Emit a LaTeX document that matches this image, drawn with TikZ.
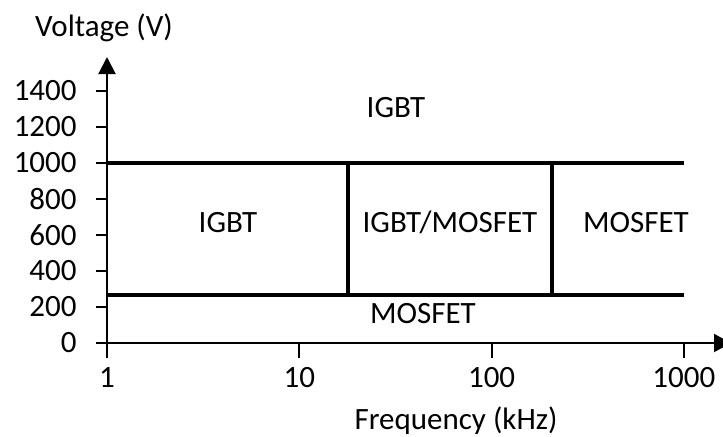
\documentclass[tikz,border=0pt]{standalone}
\usepackage{fontspec}
\setmainfont{Carlito}
\usetikzlibrary{arrows.meta, positioning, calc}

\begin{document}
\begin{tikzpicture}[x=0.5pt, y=-0.5pt, font=\fontsize{15.5}{18}\selectfont,
    axis/.style={line width=1pt},
    border/.style={line width=1.7pt},
    lbl/.style={inner sep=0pt}]
\useasboundingbox (0,0) rectangle (723,436);
% axes
\coordinate (o) at (107,343);
\coordinate (ybot) at (107,358);
\coordinate (ytop) at (107,57);
\coordinate (xleft) at (96,343);
\coordinate (xright) at (731,343);
\draw[axis, -{Triangle[length=8.5pt,width=8.5pt]}] (ybot) -- (ytop);
\draw[axis, -{Triangle[length=8.5pt,width=9pt]}] (xleft) -- (xright);
\node[lbl] (volt) at (104,28) {Voltage (V)};
\node[lbl] (freq) at (456,421) {Frequency (kHz)};
% voltage ticks
\foreach \v in {0,200,...,1400} {
  \coordinate (yt\v) at (107,{343-0.18*\v});
  \draw[axis] (yt\v) -- ++(-11,0);
  \node[lbl, anchor=east] (yl\v) at ($(yt\v)+(-30,0)$) {\v};
}
% frequency ticks
\foreach \f [count=\k from 0] in {1,10,100,1000} {
  \coordinate (xt\f) at ({107+192.3*\k},343);
  \draw[axis] (xt\f) -- ++(0,15);
  \node[lbl] (xl\f) at ($(xt\f)+(0,35)$) {\f};
}
% region borders
\coordinate (hiL) at (107,163);
\coordinate (hiR) at (684,163);
\coordinate (loL) at (107,295);
\coordinate (loR) at (684,295);
\coordinate (a1) at (348,163);
\coordinate (a2) at (348,295);
\coordinate (b1) at (552,163);
\coordinate (b2) at (552,295);
\draw[border] (hiL) -- (hiR);
\draw[border] (loL) -- (loR);
\draw[border] (a1) -- (a2);
\draw[border] (b1) -- (b2);
% regions
\node[lbl] (igbtTop) at (396,108) {IGBT};
\node[lbl] (igbtLeft) at (228,223) {IGBT};
\node[lbl] (mixed) at (450,222) {IGBT/MOSFET};
\node[lbl] (mosRight) at (636,223) {MOSFET};
\node[lbl] (mosBot) at (423,314) {MOSFET};
\end{tikzpicture}
\end{document}
